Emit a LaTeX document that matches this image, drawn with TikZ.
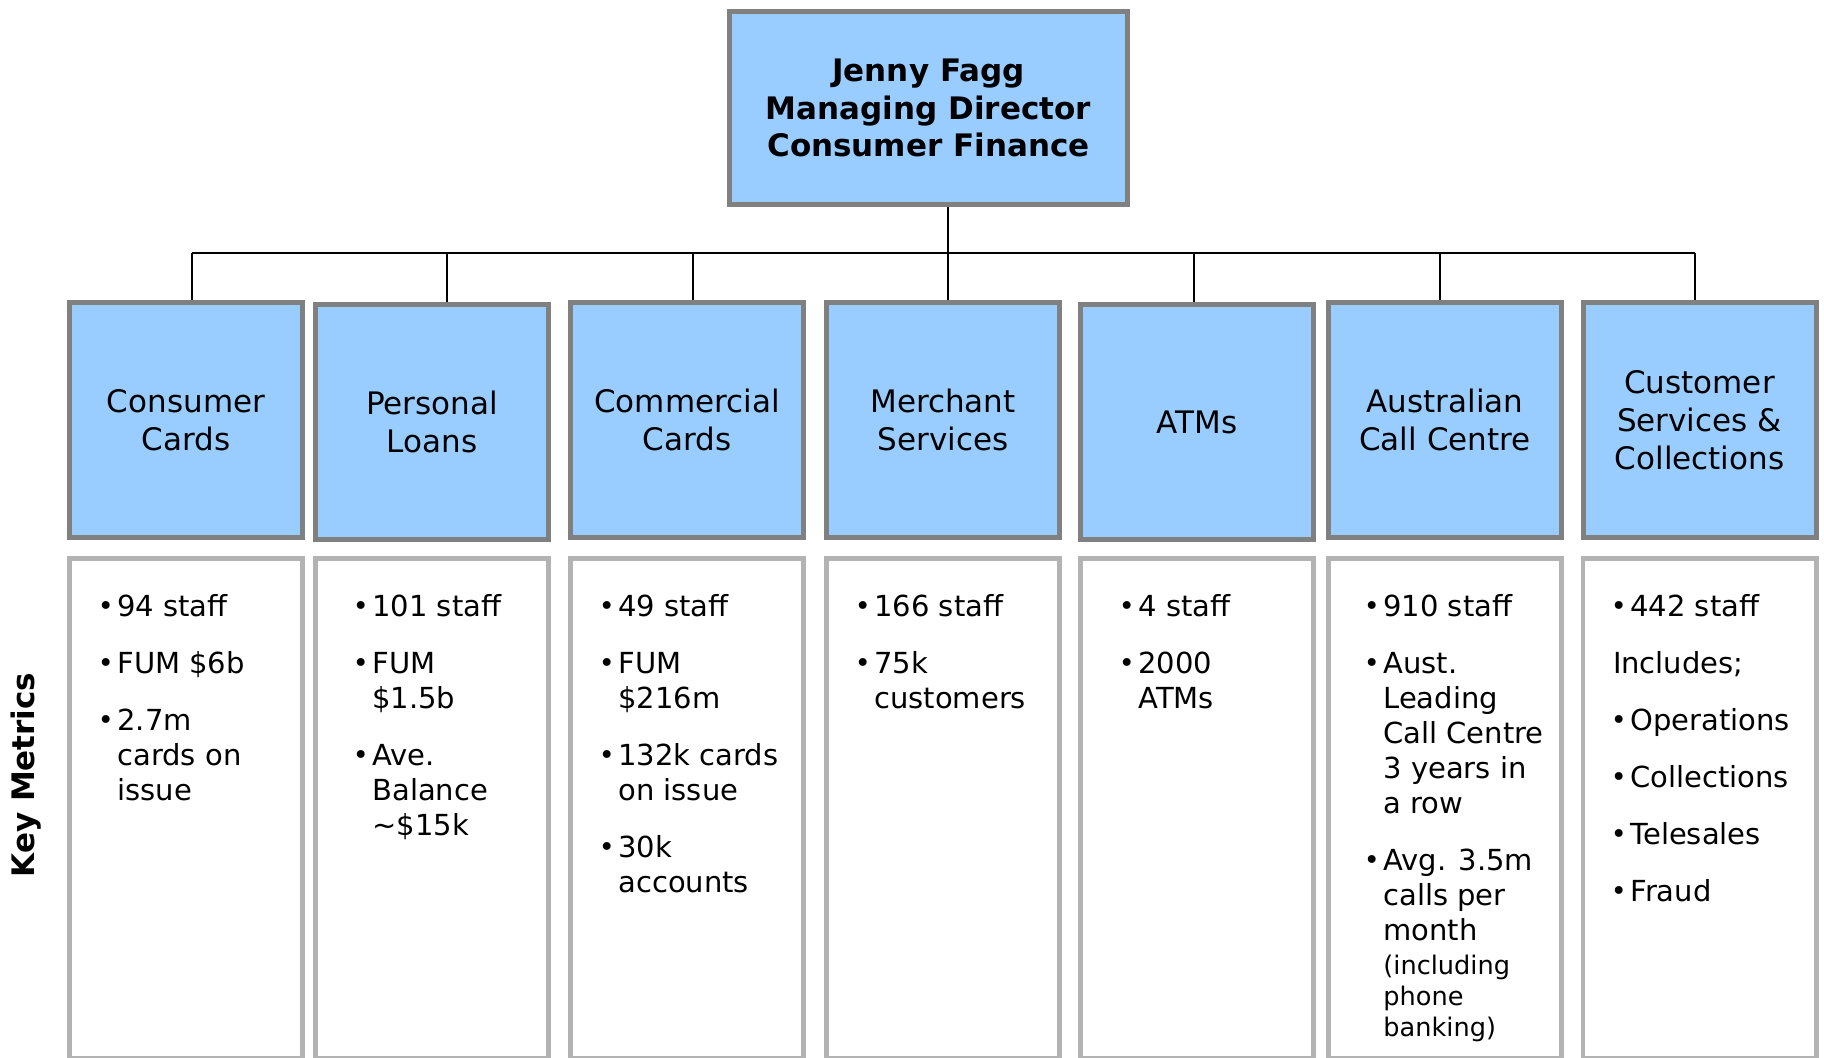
\documentclass[tikz,border=0pt]{standalone}
\usepackage{fontspec}
\setmainfont{DejaVu Sans}
\usetikzlibrary{calc}
\pgfdeclarelayer{bg}
\pgfsetlayers{bg,main}
\definecolor{boxblue}{HTML}{99CCFF}
\definecolor{boxgray}{HTML}{808080}
\definecolor{metricgray}{HTML}{B3B3B3}
\newcommand\bu{\makebox[7.7pt][l]{\kern-2.1pt\raisebox{0.3pt}{\fontsize{13.5}{13.5}\selectfont\textbullet}}}
\newcommand\smallln[1]{{\fontsize{12.8}{16}\selectfont #1}}
\begin{document}
\begin{tikzpicture}[x=0.5pt,y=-0.5pt,
  topbox/.style={draw=boxgray,fill=boxblue,line width=2.5pt,minimum width=199pt,minimum height=96.5pt,align=center,inner sep=0pt,font=\bfseries\fontsize{15.5}{18.75}\selectfont},
  unit/.style={draw=boxgray,fill=boxblue,line width=2.5pt,minimum width=116.5pt,minimum height=117.5pt,align=center,inner sep=0pt,font=\fontsize{15.5}{19}\selectfont},
  metric/.style={draw=metricgray,fill=white,line width=2.35pt,minimum width=116.65pt,minimum height=250.15pt,inner sep=0pt},
  mtext/.style={anchor=base west,inner sep=0pt,font=\fontsize{14.5}{17.5}\selectfont},
  conn/.style={draw=black,line width=0.7pt}]
\useasboundingbox (0,0) rectangle (1824,1058);
\clip (0,0) rectangle (1824,1058);

% top box
\node[topbox] (top) at (928.5,108) {Jenny Fagg\\Managing Director\\Consumer Finance};

% unit boxes
\node[unit] (u1) at (186,420) {Consumer\\Cards};
\node[unit] (u2) at (432,422) {Personal\\Loans};
\node[unit] (u3) at (687,420) {Commercial\\Cards};
\node[unit] (u4) at (943,420) {Merchant\\Services};
\node[unit] (u5) at (1197,422) {ATMs};
\node[unit] (u6) at (1445,420) {Australian\\Call Centre};
\node[unit] (u7) at (1699.5,420) {Customer\\Services \&\\Collections};

% metric boxes
\node[metric] (m1) at (186,808.5) {};
\node[metric] (m2) at (432,808.5) {};
\node[metric] (m3) at (687,808.5) {};
\node[metric] (m4) at (943,808.5) {};
\node[metric] (m5) at (1197,808.5) {};
\node[metric] (m6) at (1445,808.5) {};
\node[metric] (m7) at (1699.5,808.5) {};

% metric texts
\node[mtext] (t1) at (101.6,616) {\begin{tabular}[t]{@{}l@{}l@{}}
\bu & 94 staff\\[11pt]
\bu & FUM \$6b\\[11pt]
\bu & 2.7m\\
 & cards on\\
 & issue
\end{tabular}};
\node[mtext] (t2) at (356.6,616) {\begin{tabular}[t]{@{}l@{}l@{}}
\bu & 101 staff\\[11pt]
\bu & FUM\\
 & \$1.5b\\[11pt]
\bu & Ave.\\
 & Balance\\
 & \textasciitilde\$15k
\end{tabular}};
\node[mtext] (t3) at (602.6,616) {\begin{tabular}[t]{@{}l@{}l@{}}
\bu & 49 staff\\[11pt]
\bu & FUM\\
 & \$216m\\[11pt]
\bu & 132k cards\\
 & on issue\\[11pt]
\bu & 30k\\
 & accounts
\end{tabular}};
\node[mtext] (t4) at (858.6,616) {\begin{tabular}[t]{@{}l@{}l@{}}
\bu & 166 staff\\[11pt]
\bu & 75k\\
 & customers
\end{tabular}};
\node[mtext] (t5) at (1122.6,616) {\begin{tabular}[t]{@{}l@{}l@{}}
\bu & 4 staff\\[11pt]
\bu & 2000\\
 & ATMs
\end{tabular}};
\node[mtext] (t6) at (1367.6,616) {\begin{tabular}[t]{@{}l@{}l@{}}
\bu & 910 staff\\[11pt]
\bu & Aust.\\
 & Leading\\
 & Call Centre\\
 & 3 years in\\
 & a row\\[11pt]
\bu & Avg. 3.5m\\
 & calls per\\
 & month\\[-0.5pt]
 & \smallln{(including}\\[-1.8pt]
 & \smallln{phone}\\[-1.8pt]
 & \smallln{banking)}
\end{tabular}};
\node[mtext] (t7) at (1614.6,616) {\begin{tabular}[t]{@{}l@{}l@{}}
\bu & 442 staff\\[11pt]
\multicolumn{2}{@{}l@{}}{\kern-1pt Includes;}\\[11pt]
\bu & Operations\\[11pt]
\bu & Collections\\[11pt]
\bu & Telesales\\[11pt]
\bu & Fraud
\end{tabular}};

% side label
\node[rotate=90,inner sep=0pt,font=\bfseries\fontsize{15.5}{18}\selectfont] (km) at (26,775) {Key Metrics};

% connectors
\coordinate (barL) at (192,253);
\coordinate (barR) at (1695,253);
\begin{pgfonlayer}{bg}
\fill[white] (0,0) rectangle (1824,1058);
\draw[conn] (barL) -- (barR);
\draw[conn] ([xshift=9.75pt]top.south) -- ([xshift=2.5pt]u4.north);
\draw[conn] ([xshift=3pt]u1.north) -- ([xshift=3pt]u1.north |- barL);
\draw[conn] ([xshift=7.5pt]u2.north) -- ([xshift=7.5pt]u2.north |- barL);
\draw[conn] ([xshift=3pt]u3.north) -- ([xshift=3pt]u3.north |- barL);
\draw[conn] ([xshift=-1.5pt]u5.north) -- ([xshift=-1.5pt]u5.north |- barL);
\draw[conn] ([xshift=-2.5pt]u6.north) -- ([xshift=-2.5pt]u6.north |- barL);
\draw[conn] ([xshift=-2.25pt]u7.north) -- ([xshift=-2.25pt]u7.north |- barL);
\end{pgfonlayer}
\end{tikzpicture}
\end{document}
